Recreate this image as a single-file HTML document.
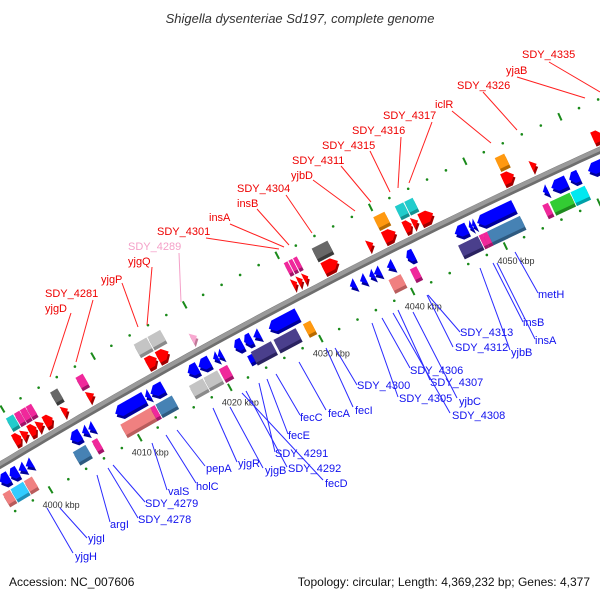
<!DOCTYPE html>
<html><head><meta charset="utf-8"><style>
html,body{margin:0;padding:0;background:#fff;}
svg{display:block;font-family:"Liberation Sans",sans-serif;}
</style></head>
<body>
<svg id="map" xmlns="http://www.w3.org/2000/svg" width="600" height="600" viewBox="0 0 600 600">
<rect x="0" y="0" width="600" height="600" fill="#fff"/>
<text x="300" y="23" text-anchor="middle" font-size="13" font-style="italic" fill="#333">Shigella dysenteriae Sd197, complete genome</text>
<g id="ticks"></g>
<g id="backbone"></g>
<g id="features"></g>
<g id="labels"></g>
<text x="9" y="586" font-size="12" fill="#111">Accession: NC_007606</text>
<text x="590" y="586" font-size="12" fill="#111" text-anchor="end">Topology: circular; Length: 4,369,232 bp; Genes: 4,377</text>
</svg>
<script>
// ---- data (kbp) ----
const geneStart = [3996.2,3997.3,3998.3,3999.1,4004.1,4005.4,4006.1,4009.1,4012.4,4013.0,4017.1,4018.3,4019.9,4020.4,4022.2,4023.3,4024.3,4026.0,4034.8,4035.9,4036.9,4037.4,4038.8,4040.9,4046.1,4047.6,4047.95,4048.5,4055.5,4056.4,4058.3,4060.3,
3995.8,3996.7,3998.2,4003.7,4005.8,4009.0,4012.3,4012.9,4016.6,4018.2,4019.9,4022.9,4023.4,4025.9,4029.1,4038.4,4040.7,4045.9,4048.1,4048.5,4049.0,4054.9,4055.7,4057.9,
3999.4,4000.3,4001.1,4002.0,4002.8,4004.8,4007.6,4014.1,4015.3,4019.0,4030.0,4030.6,4031.2,4033.3,4038.1,4039.8,4042.0,4042.9,4043.7,4052.5,4055.5,4062.0,
3999.8,4000.7,4001.35,4002.0,4004.7,4007.5,4013.9,4015.4,4030.2,4030.7,4031.2,4033.2,4039.8,4042.1,4043.1,4052.7];
const geneEnd = [3997.2,3998.2,3999.0,3999.8,4005.2,4006.0,4006.7,4012.3,4012.9,4014.4,4018.2,4019.5,4020.4,4020.9,4023.1,4024.1,4025.0,4029.1,4035.4,4036.5,4037.4,4038.1,4039.5,4041.7,4047.4,4047.95,4048.3,4052.4,4056.0,4058.0,4059.3,4062.4,
3996.6,3998.1,3999.1,4005.1,4006.4,4012.3,4012.8,4014.7,4018.1,4019.7,4020.8,4023.4,4025.6,4028.3,4029.9,4039.7,4041.4,4048.0,4048.5,4049.0,4052.5,4055.5,4057.8,4059.4,
4000.2,4001.0,4001.9,4002.7,4003.7,4005.4,4008.3,4015.2,4016.5,4019.6,4030.5,4031.1,4031.7,4034.9,4038.7,4041.1,4042.8,4043.5,4045.1,4053.7,4056.1,4063.0,
4000.6,4001.3,4001.95,4002.6,4005.5,4008.3,4015.3,4016.8,4030.6,4031.1,4031.6,4034.9,4041.0,4043.0,4044.0,4053.7];
const geneTrack = ["1","1","1","1","1","1","1","1","1","1","1","1","1","1","1","1","1","1","1","1","1","1","1","1","1","1","1","1","1","1","1","1",
"2","2","2","2","2","2","2","2","2","2","2","2","2","2","2","2","2","2","2","2","2","2","2","2",
"A","A","A","A","A","A","A","A","A","A","A","A","A","A","A","A","A","A","A","A","A","A",
"B","B","B","B","B","B","B","B","B","B","B","B","B","B","B","B"];
const geneType = ["cds","cds","cds","cds","cds","cds","cds","cds","cds","cds","cds","cds","cds","cds","cds","cds","cds","cds","cds","cds","cds","cds","cds","cds","cds","cds","cds","cds","cds","cds","cds","cds",
"salmon","sky","salmon","steel","pink","salmon","pink","steel","gray","gray","pink","blue","slate","slate","orange","salmon","pink","slate","pink","pink","steel","pink","green","aqua",
"cds","cds","cds","cds","cds","cds","cds","cds","cds","ltpink","cds","cds","cds","cds","cds","cds","cds","cds","cds","cds","cds","cds",
"teal","pink","pink","pink","dgray","pink","gray","gray","pink","pink","pink","dgray","orange","teal","teal","orange"];
const tickKbp = [4000,4010,4020,4030,4040,4050];
const tickLabels = ["4000 kbp","4010 kbp","4020 kbp","4030 kbp","4040 kbp","4050 kbp"];

const redLabels = ["SDY_4335","yjaB","SDY_4326","iclR","SDY_4317","SDY_4316","SDY_4315","SDY_4311","yjbD","SDY_4304","insB","insA","SDY_4301","SDY_4289","yjgQ","yjgP","SDY_4281","yjgD"];
const redLabelPos = [[522,58,549,62,600,92],[506,74,517,77,585,98],[457,89,483,92,517,130],[435,108,452,111,491,143],[383,119,432,122,409,183],[352,134,401,137,398,188],[322,149,370,151,390,192],[292,164,341,166,371,202],[291,179,313,180,355,211],[237,192,286,195,312,233],[237,207,257,209,289,245],[209,221,230,224,284,247],[157,235,206,238,279,249],[128,250,179,253,181,302],[128,265,152,267,147,325],[101,283,122,283,138,327],[45,297,93,300,76,362],[45,312,71,313,50,377]];
const blueLabels = ["metH","insB","insA","yjbB","SDY_4313","SDY_4312","SDY_4306","SDY_4307","yjbC","SDY_4308","SDY_4305","SDY_4300","fecI","fecA","fecC","fecE","SDY_4291","SDY_4292","fecD","yjgB","yjgR","pepA","holC","valS","SDY_4279","SDY_4278","argI","yjgI","yjgH"];
const blueLabelPos = [[538,298,515,252,538,293],[523,326,493,263,523,322],[535,344,497,263,535,339],[511,356,480,268,510,350],[460,336,428,295,460,332],[455,351,427,295,453,347],[410,374,382,318,410,368],[430,386,398,310,430,380],[459,405,413,312,457,398],[452,419,393,313,450,413],[399,402,372,323,398,397],[357,389,335,348,357,385],[355,414,326,348,353,407],[328,417,299,362,326,410],[300,421,276,374,300,415],[288,439,267,379,288,434],[275,457,259,383,275,452],[288,472,246,391,287,467],[325,487,242,393,323,480],[265,474,230,407,263,468],[238,467,213,408,237,462],[206,472,177,430,205,466],[196,490,166,435,196,483],[168,495,152,443,167,490],[145,507,113,465,145,502],[138,523,108,468,138,518],[110,528,97,475,110,522],[88,542,60,508,87,538],[75,560,47,508,73,553]];

// ---- geometry ----
const NS = "http://www.w3.org/2000/svg";
const CX = 2967, CY = 5386, RAD = 5746, PXK = 10.41;
function phiDeg(k){ return -120.78 + (k - 4000) * 0.1038; }
function pt(k, v){ const a = phiDeg(k) * Math.PI / 180, r = RAD - v; return [CX + r * Math.cos(a), CY + r * Math.sin(a)]; }
function mk(tag, attrs, parent){ const e = document.createElementNS(NS, tag); for (const k in attrs) e.setAttribute(k, attrs[k]); parent.appendChild(e); return e; }

const trackV = {"1":14, "2":32, "A":-14, "B":-31};
const fillOf = {salmon:"#f08080", sky:"#33ccff", steel:"#4682b4", pink:"#f0289b", gray:"#c4c4c4", blue:"#0000ff", slate:"#4a3f8c", orange:"#ff9910", green:"#33cc33", aqua:"#00e8f0", ltpink:"#f8a8d0", teal:"#22cccc", dgray:"#686868"};
const shadeOf = {salmon:"#b85c5c", sky:"#2090b8", steel:"#2e5a80", pink:"#a01468", gray:"#8a8a8a", blue:"#00009a", slate:"#2a2260", orange:"#b86a00", green:"#1f8a1f", aqua:"#00a0a8", ltpink:"#c07898", teal:"#149090", dgray:"#3a3a3a", red:"#a00000"};

// backbone
const bb = document.getElementById("backbone");
let d = "";
for (let k = 3990; k <= 4068; k += 1) { const p = pt(k, 0); d += (k === 3990 ? "M" : "L") + p[0].toFixed(1) + " " + p[1].toFixed(1); }
const bbShadow = mk("path", {d: d, fill: "none", stroke: "#6e6e6e", "stroke-width": 7}, bb);


const bbLine = mk("path", {d: d, fill: "none", stroke: "#9a9a9a", "stroke-width": 4, transform: "translate(-0.6,-1)"}, bb);



// ticks
const tg = document.getElementById("ticks");
for (let k = 3992; k <= 4066; k += 2) {
  [-47, 47].forEach(v => {
    if (k % 10 === 0) {
      const a = pt(k, v - 4), b = pt(k, v + 4);
      const ln = mk("line", {x1: a[0], y1: a[1], x2: b[0], y2: b[1], stroke: "#1a8a1a", "stroke-width": 2}, tg);
      
      
    } else {
      const p = pt(k, v);
      const c = mk("circle", {cx: p[0], cy: p[1], r: 1.3, fill: "#1a8a1a"}, tg);
      
      
    }
  });
}
tickKbp.forEach((k, i) => {
  const p = pt(k, 47);
  const t = mk("text", {x: p[0] - 8, y: p[1] + 18, "font-size": 9, fill: "#333"}, tg);
  t.textContent = tickLabels[i];
  
  
});

// features
const fg = document.getElementById("features");
function shapePts(L, h, dir, isArrow){
  const x0 = -L / 2, x1 = L / 2, y0 = -h / 2, y1 = h / 2;
  let pts;
  if (!isArrow) pts = [[x0,y0],[x1,y0],[x1,y1],[x0,y1]];
  else if (L < 8) pts = [[x0,y0],[x1,0],[x0,y1]];
  else { const hl = Math.min(L * 0.45, 6); pts = [[x0,y0],[x1-hl,y0],[x1,0],[x1-hl,y1],[x0,y1]]; }
  if (dir < 0) pts = pts.map(p => [-p[0], p[1]]);
  return pts.map(p => p[0].toFixed(2) + "," + p[1].toFixed(2)).join(" ");
}
for (let i = 0; i < geneStart.length; i++) {
  const s = geneStart[i], e = geneEnd[i], tr = geneTrack[i], ty = geneType[i];
  const kc = (s + e) / 2, L = (e - s) * PXK, v = trackV[tr];
  const p = pt(kc, v), rot = phiDeg(kc) + 90;
  const isArrow = (ty === "cds" || ty === "ltpink");
  const dir = (tr === "A" || tr === "B") ? 1 : -1;
  let fill = fillOf[ty], shade = shadeOf[ty];
  if (ty === "cds") { fill = dir > 0 ? "#ff0000" : "#0000ff"; shade = dir > 0 ? shadeOf.red : shadeOf.blue; }
  const h = (ty === "blue") ? 8 : 12;
  const pts = shapePts(L, h, dir, isArrow);
  const g = mk("g", {}, fg);
  
  
  const sh = mk("polygon", {points: pts, fill: shade, transform: "translate(" + (p[0] + 1.5).toFixed(2) + "," + (p[1] + 3).toFixed(2) + ") rotate(" + rot.toFixed(3) + ")"}, g);
  
  
  const fp = mk("polygon", {points: pts, fill: fill, transform: "translate(" + p[0].toFixed(2) + "," + p[1].toFixed(2) + ") rotate(" + rot.toFixed(3) + ")"}, g);
  
  
}

// labels
const lg = document.getElementById("labels");
function addLabels(names, pos, color, lineColor){
  names.forEach((n, i) => {
    const q = pos[i];
    const ln = mk("line", {x1: q[2], y1: q[3], x2: q[4], y2: q[5], stroke: lineColor, "stroke-width": 1}, lg);
    
    
    const t = mk("text", {x: q[0], y: q[1], "font-size": 11, fill: color}, lg);
    t.textContent = n;
    
    
  });
}
addLabels(redLabels, redLabelPos, "#ee0000", "#ff2020");
const pinkIdx = redLabels.indexOf("SDY_4289");
lg.querySelectorAll("text")[pinkIdx].setAttribute("fill", "#f4a0c8");
lg.querySelectorAll("line")[pinkIdx].setAttribute("stroke", "#f4a0c8");
addLabels(blueLabels, blueLabelPos, "#1010ee", "#2a2aff");
</script>
</body></html>
